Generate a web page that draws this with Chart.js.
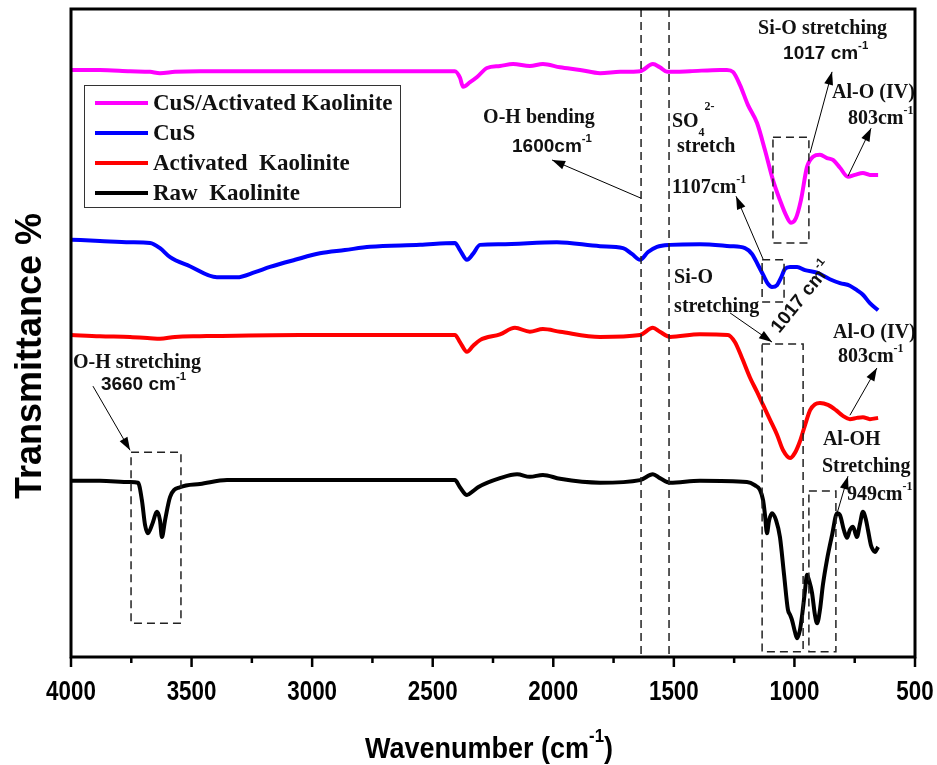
<!DOCTYPE html>
<html><head><meta charset="utf-8">
<script src="https://cdn.jsdelivr.net/npm/chart.js@4.4.1/dist/chart.umd.min.js"></script>
<style>html,body{margin:0;padding:0;background:#fff}</style>
</head><body>
<canvas id="c" width="937" height="765"></canvas>
<script>
// ---- data (wavenumber cm-1, transmittance in arbitrary offset units) ----
const seriesNames = ['CuS/Activated Kaolinite', 'CuS', 'Activated  Kaolinite', 'Raw  Kaolinite'];
const xTicks = [4000, 3500, 3000, 2500, 2000, 1500, 1000, 500];

const wnPink = [4000,3880,3755,3672,3631,3569,3465,3050,2636,2408,2387,2374,2345,2316,2275,2221,2167,2097,2043,1972,1889,1806,1723,1640,1587,1558,1528,1433,1309,1280,1255,1226,1193,1155,1122,1089,1060,1035,1014,994,973,948,923,894,865,840,811,778,749,716,687,653];
const tPink = [90.6,90.6,90.4,90.3,90.1,90.3,90.4,90.4,90.4,90.4,89.4,88.0,88.7,89.5,90.9,91.2,91.5,91.2,91.5,91.0,90.6,90.1,90.3,90.4,91.5,91.0,90.3,90.4,90.6,90.6,90.3,88.3,85.2,82.4,78.2,73.6,70.5,68.2,67.0,67.7,70.5,75.6,77.2,77.5,77.0,76.7,75.5,74.1,74.4,74.7,74.4,74.4];

const wnBlue = [4000,3880,3755,3672,3631,3589,3507,3395,3312,3237,3175,3071,2968,2864,2760,2553,2408,2387,2358,2333,2304,2221,1985,1806,1711,1674,1640,1607,1570,1516,1392,1267,1205,1176,1151,1130,1110,1093,1072,1056,1039,1018,989,956,906,853,811,770,741,716,687,653];
const tBlue = [64.4,64.2,64.0,63.9,63.1,61.7,60.3,58.6,58.6,59.4,60.2,61.3,62.3,62.8,63.3,63.6,63.9,62.8,61.3,62.2,63.6,63.7,64.0,63.4,63.1,62.2,61.3,62.5,63.3,63.6,63.7,63.4,63.1,62.2,60.5,59.0,57.6,57.1,57.4,58.5,59.9,60.2,60.2,59.7,59.3,58.3,57.7,57.3,56.6,55.9,54.6,53.5];

const wnRed = [4000,3880,3755,3672,3631,3569,3465,3050,2636,2408,2387,2358,2333,2304,2221,2159,2097,2043,1972,1806,1640,1587,1558,1516,1392,1276,1247,1217,1184,1155,1130,1101,1072,1047,1018,998,977,956,935,915,894,861,828,799,770,741,716,687,653];
const tRed = [49.7,49.5,49.4,49.2,49.1,49.4,49.5,49.7,49.7,49.7,48.6,47.1,48.0,48.9,49.8,50.8,50.2,50.6,50.2,49.4,49.7,50.8,50.2,49.4,49.8,49.7,48.6,46.1,43.1,40.9,38.9,36.6,34.3,31.9,30.7,31.5,33.3,35.8,38.1,39.0,39.2,38.9,38.1,37.2,36.7,36.9,37.0,36.7,36.9];

const wnBlack = [4000,3880,3755,3722,3706,3693,3681,3664,3643,3631,3623,3610,3589,3548,3465,3353,3050,2636,2408,2387,2358,2333,2312,2221,2150,2097,2043,1972,1806,1640,1587,1558,1516,1392,1197,1164,1143,1130,1122,1114,1105,1093,1076,1060,1043,1027,1018,1010,998,989,977,969,956,948,940,927,915,906,894,882,865,844,823,811,795,782,770,757,741,729,716,703,695,683,674,666,653];
const tBlack = [27.2,27.2,27.0,26.9,24.2,20.4,19.1,20.4,22.4,21.1,18.5,21.1,24.7,26.2,26.7,27.3,27.3,27.3,27.3,26.2,25.0,25.6,26.2,27.6,28.2,27.8,28.1,27.5,26.9,27.3,28.2,27.6,26.9,27.2,27.0,26.5,25.8,24.2,21.9,19.1,21.1,22.2,21.1,18.5,12.7,7.3,6.5,5.7,3.9,2.9,4.2,6.2,10.3,12.7,11.9,9.9,6.5,5.2,7.3,11.1,15.0,18.8,22.2,21.9,19.6,18.4,19.6,20.1,18.5,20.4,22.4,21.1,19.6,17.3,16.5,16.2,17.0];

// ---- annotation anchors in data units (wavenumber, transmittance) ----
const guideLines = [1636, 1520];
const bandBoxes = [[3751,3544,31.6,5.2],[1089,940,80.2,63.9],[1134,1043,61.3,54.8],[1134,964,48.3,0.8],[940,828,25.6,0.8]];
const arrowLinks = [[3909,41.8,3755,31.9],[1636,70.8,2005,76.7],[1130,61.4,1242,71.1],[935,77.8,844,90.3],[778,74.2,682,81.6],[1267,53.1,1093,48.6],[770,37.3,658,44.6],[823,22.2,778,27.9]];

const SANS = "'Liberation Sans', Arial, sans-serif";
const SERIF = "'Liberation Serif', 'Times New Roman', serif";

const SUP = (t) => [t, 0.6, -10];
const bandLabels = [
  {x:3992, y:44.6, f:SERIF, parts:[['O-H stretching']]},
  {x:3876, y:41.2, f:SANS, s:19, parts:[['3660 cm'], SUP('-1')]},
  {x:2291, y:82.4, f:SERIF, parts:[['O-H bending']]},
  {x:2171, y:77.9, f:SANS, s:19, parts:[['1600cm'], SUP('-1')]},
  {x:1508, y:81.8, f:SERIF, parts:[['SO'], ['4',0.6,9], ['2-',0.6,-17]]},
  {x:1487, y:77.9, f:SERIF, parts:[['stretch']]},
  {x:1508, y:71.6, f:SERIF, parts:[['1107cm'], SUP('-1')]},
  {x:1151, y:96.1, f:SERIF, parts:[['Si-O stretching']]},
  {x:1047, y:92.3, f:SANS, s:19, parts:[['1017 cm'], SUP('-1')]},
  {x:844, y:86.3, f:SERIF, parts:[['Al-O (IV)']]},
  {x:778, y:82.3, f:SERIF, parts:[['803cm'], SUP('-1')]},
  {x:1499, y:57.7, f:SERIF, parts:[['Si-O']]},
  {x:1499, y:53.2, f:SERIF, parts:[['stretching']]},
  {x:973, y:55.6, f:SANS, s:19, rot:-51, parts:[['1017 cm'], SUP('-1')]},
  {x:840, y:49.2, f:SERIF, parts:[['Al-O (IV)']]},
  {x:819, y:45.5, f:SERIF, parts:[['803cm'], SUP('-1')]},
  {x:882, y:32.7, f:SERIF, parts:[['Al-OH']]},
  {x:886, y:28.5, f:SERIF, parts:[['Stretching']]},
  {x:782, y:24.2, f:SERIF, parts:[['949cm'], SUP('-1')]}
];

function richWidth(ctx, parts, size, fam) {
  let w = 0;
  for (const p of parts) { ctx.font = `bold ${size*(p[1]||1)}px ${fam}`; w += ctx.measureText(p[0]).width; }
  return w;
}
function drawRich(ctx, x, y, parts, size, fam) {
  ctx.textAlign = 'left'; ctx.textBaseline = 'alphabetic';
  let cx = x;
  for (const p of parts) {
    ctx.font = `bold ${size*(p[1]||1)}px ${fam}`;
    ctx.fillText(p[0], cx, y + (p[2]||0));
    cx += ctx.measureText(p[0]).width;
  }
}
function drawArrow(ctx, x1, y1, x2, y2) {
  ctx.beginPath(); ctx.moveTo(x1, y1); ctx.lineTo(x2, y2); ctx.stroke();
  const a = Math.atan2(y2 - y1, x2 - x1), L = 13, W = 4.5;
  ctx.beginPath(); ctx.moveTo(x2, y2);
  ctx.lineTo(x2 - L*Math.cos(a) + W*Math.sin(a), y2 - L*Math.sin(a) - W*Math.cos(a));
  ctx.lineTo(x2 - L*Math.cos(a) - W*Math.sin(a), y2 - L*Math.sin(a) + W*Math.cos(a));
  ctx.closePath(); ctx.fill();
}

const decor = {
  id: 'decor',
  afterDatasetsDraw(chart) {
    const ctx = chart.ctx, xs = chart.scales.x, ys = chart.scales.y, a = chart.chartArea;
    const X = v => xs.getPixelForValue(v), Y = v => ys.getPixelForValue(v);
    ctx.save();
    // dashed guides and boxes
    ctx.strokeStyle = '#222'; ctx.lineWidth = 1.5; ctx.setLineDash([8, 5]);
    for (const g of guideLines) { ctx.beginPath(); ctx.moveTo(X(g), a.top); ctx.lineTo(X(g), a.bottom); ctx.stroke(); }
    for (const b of bandBoxes) {
      const x1 = X(b[0]), x2 = X(b[1]), y1 = Y(b[2]), y2 = Y(b[3]);
      ctx.strokeRect(x1, y1, x2 - x1, y2 - y1);
    }
    ctx.setLineDash([]);
    // arrows
    ctx.strokeStyle = '#000'; ctx.fillStyle = '#000'; ctx.lineWidth = 1;
    for (const r of arrowLinks) drawArrow(ctx, X(r[0]), Y(r[1]), X(r[2]), Y(r[3]));
    // labels
    ctx.fillStyle = '#111';
    for (const l of bandLabels) {
      const size = l.s || 20;
      if (l.rot) {
        const w = richWidth(ctx, l.parts, size, l.f);
        ctx.save(); ctx.translate(X(l.x), Y(l.y)); ctx.rotate(l.rot * Math.PI / 180);
        drawRich(ctx, -w/2, size*0.35, l.parts, size, l.f); ctx.restore();
      } else drawRich(ctx, X(l.x), Y(l.y), l.parts, size, l.f);
    }
    // legend
    const lx = 84, ly = 85, lw = 316, lh = 122;
    ctx.fillStyle = '#fff'; ctx.fillRect(lx, ly, lw, lh);
    ctx.strokeStyle = '#333'; ctx.lineWidth = 1; ctx.strokeRect(lx + 0.5, ly + 0.5, lw, lh);
    chart.data.datasets.forEach((d, i) => {
      const yy = 103 + i * 30;
      ctx.strokeStyle = d.borderColor; ctx.lineWidth = 4;
      ctx.beginPath(); ctx.moveTo(95, yy); ctx.lineTo(148, yy); ctx.stroke();
      ctx.fillStyle = '#111'; ctx.font = `bold 23px ${SERIF}`; ctx.textAlign = 'left'; ctx.textBaseline = 'middle';
      ctx.fillText(d.label, 153, yy + 1);
    });
    // frame
    ctx.strokeStyle = '#000'; ctx.lineWidth = 3;
    ctx.strokeRect(a.left, a.top, a.right - a.left, a.bottom - a.top);
    // ticks: major & minor
    ctx.lineWidth = 2.5;
    for (const v of xTicks) { ctx.beginPath(); ctx.moveTo(X(v), a.bottom); ctx.lineTo(X(v), a.bottom + 10); ctx.stroke(); }
    for (let v = 750; v < 4000; v += 500) { ctx.beginPath(); ctx.moveTo(X(v), a.bottom); ctx.lineTo(X(v), a.bottom + 6); ctx.stroke(); }
    // tick labels (condensed)
    ctx.fillStyle = '#000'; ctx.font = `bold 28px ${SANS}`; ctx.textAlign = 'center'; ctx.textBaseline = 'alphabetic';
    for (const v of xTicks) {
      ctx.save(); ctx.translate(X(v), 700); ctx.scale(0.8, 1); ctx.fillText(String(v), 0, 0); ctx.restore();
    }
    // axis titles
    const tparts = [['Wavenumber (cm'], ['-1', 0.62, -16], [')']];
    const tw = richWidth(ctx, tparts, 30, SANS);
    ctx.save(); ctx.translate(489, 758); ctx.scale(0.9, 1);
    drawRich(ctx, -tw / 2, 0, tparts, 30, SANS); ctx.restore();
    ctx.save(); ctx.translate(31, 356); ctx.rotate(-Math.PI / 2);
    ctx.font = `bold 36px ${SANS}`; ctx.textAlign = 'center'; ctx.textBaseline = 'middle';
    ctx.fillText('Transmittance %', 0, 0); ctx.restore();
    ctx.restore();
  }
};

const colors = ['#ff00ff', '#0000ff', '#ff0000', '#000000'];
const wns = [wnPink, wnBlue, wnRed, wnBlack];
const ts = [tPink, tBlue, tRed, tBlack];

new Chart(document.getElementById('c'), {
  type: 'line',
  data: {
    datasets: seriesNames.map((n, i) => ({
      label: n,
      data: wns[i].map((w, j) => ({x: w, y: ts[i][j]})),
      borderColor: colors[i], borderWidth: 4, pointRadius: 0,
      cubicInterpolationMode: 'monotone', fill: false
    }))
  },
  options: {
    responsive: false, animation: false, devicePixelRatio: 1,
    layout: {padding: {left: 0, right: 22, top: 9, bottom: 0}},
    plugins: {legend: {display: false}, tooltip: {enabled: false}},
    scales: {
      x: {
        type: 'linear', reverse: true, min: 500, max: 4000,
        afterBuildTicks: s => { s.ticks = xTicks.map(v => ({value: v})); },
        afterFit: s => { s.height = 108; },
        ticks: {display: false},
        grid: {display: false},
        border: {display: false}
      },
      y: {
        min: 0, max: 100,
        afterFit: s => { s.width = 71; },
        ticks: {display: false}, grid: {display: false}, border: {display: false}
      }
    }
  },
  plugins: [decor]
});
</script>
</body></html>
